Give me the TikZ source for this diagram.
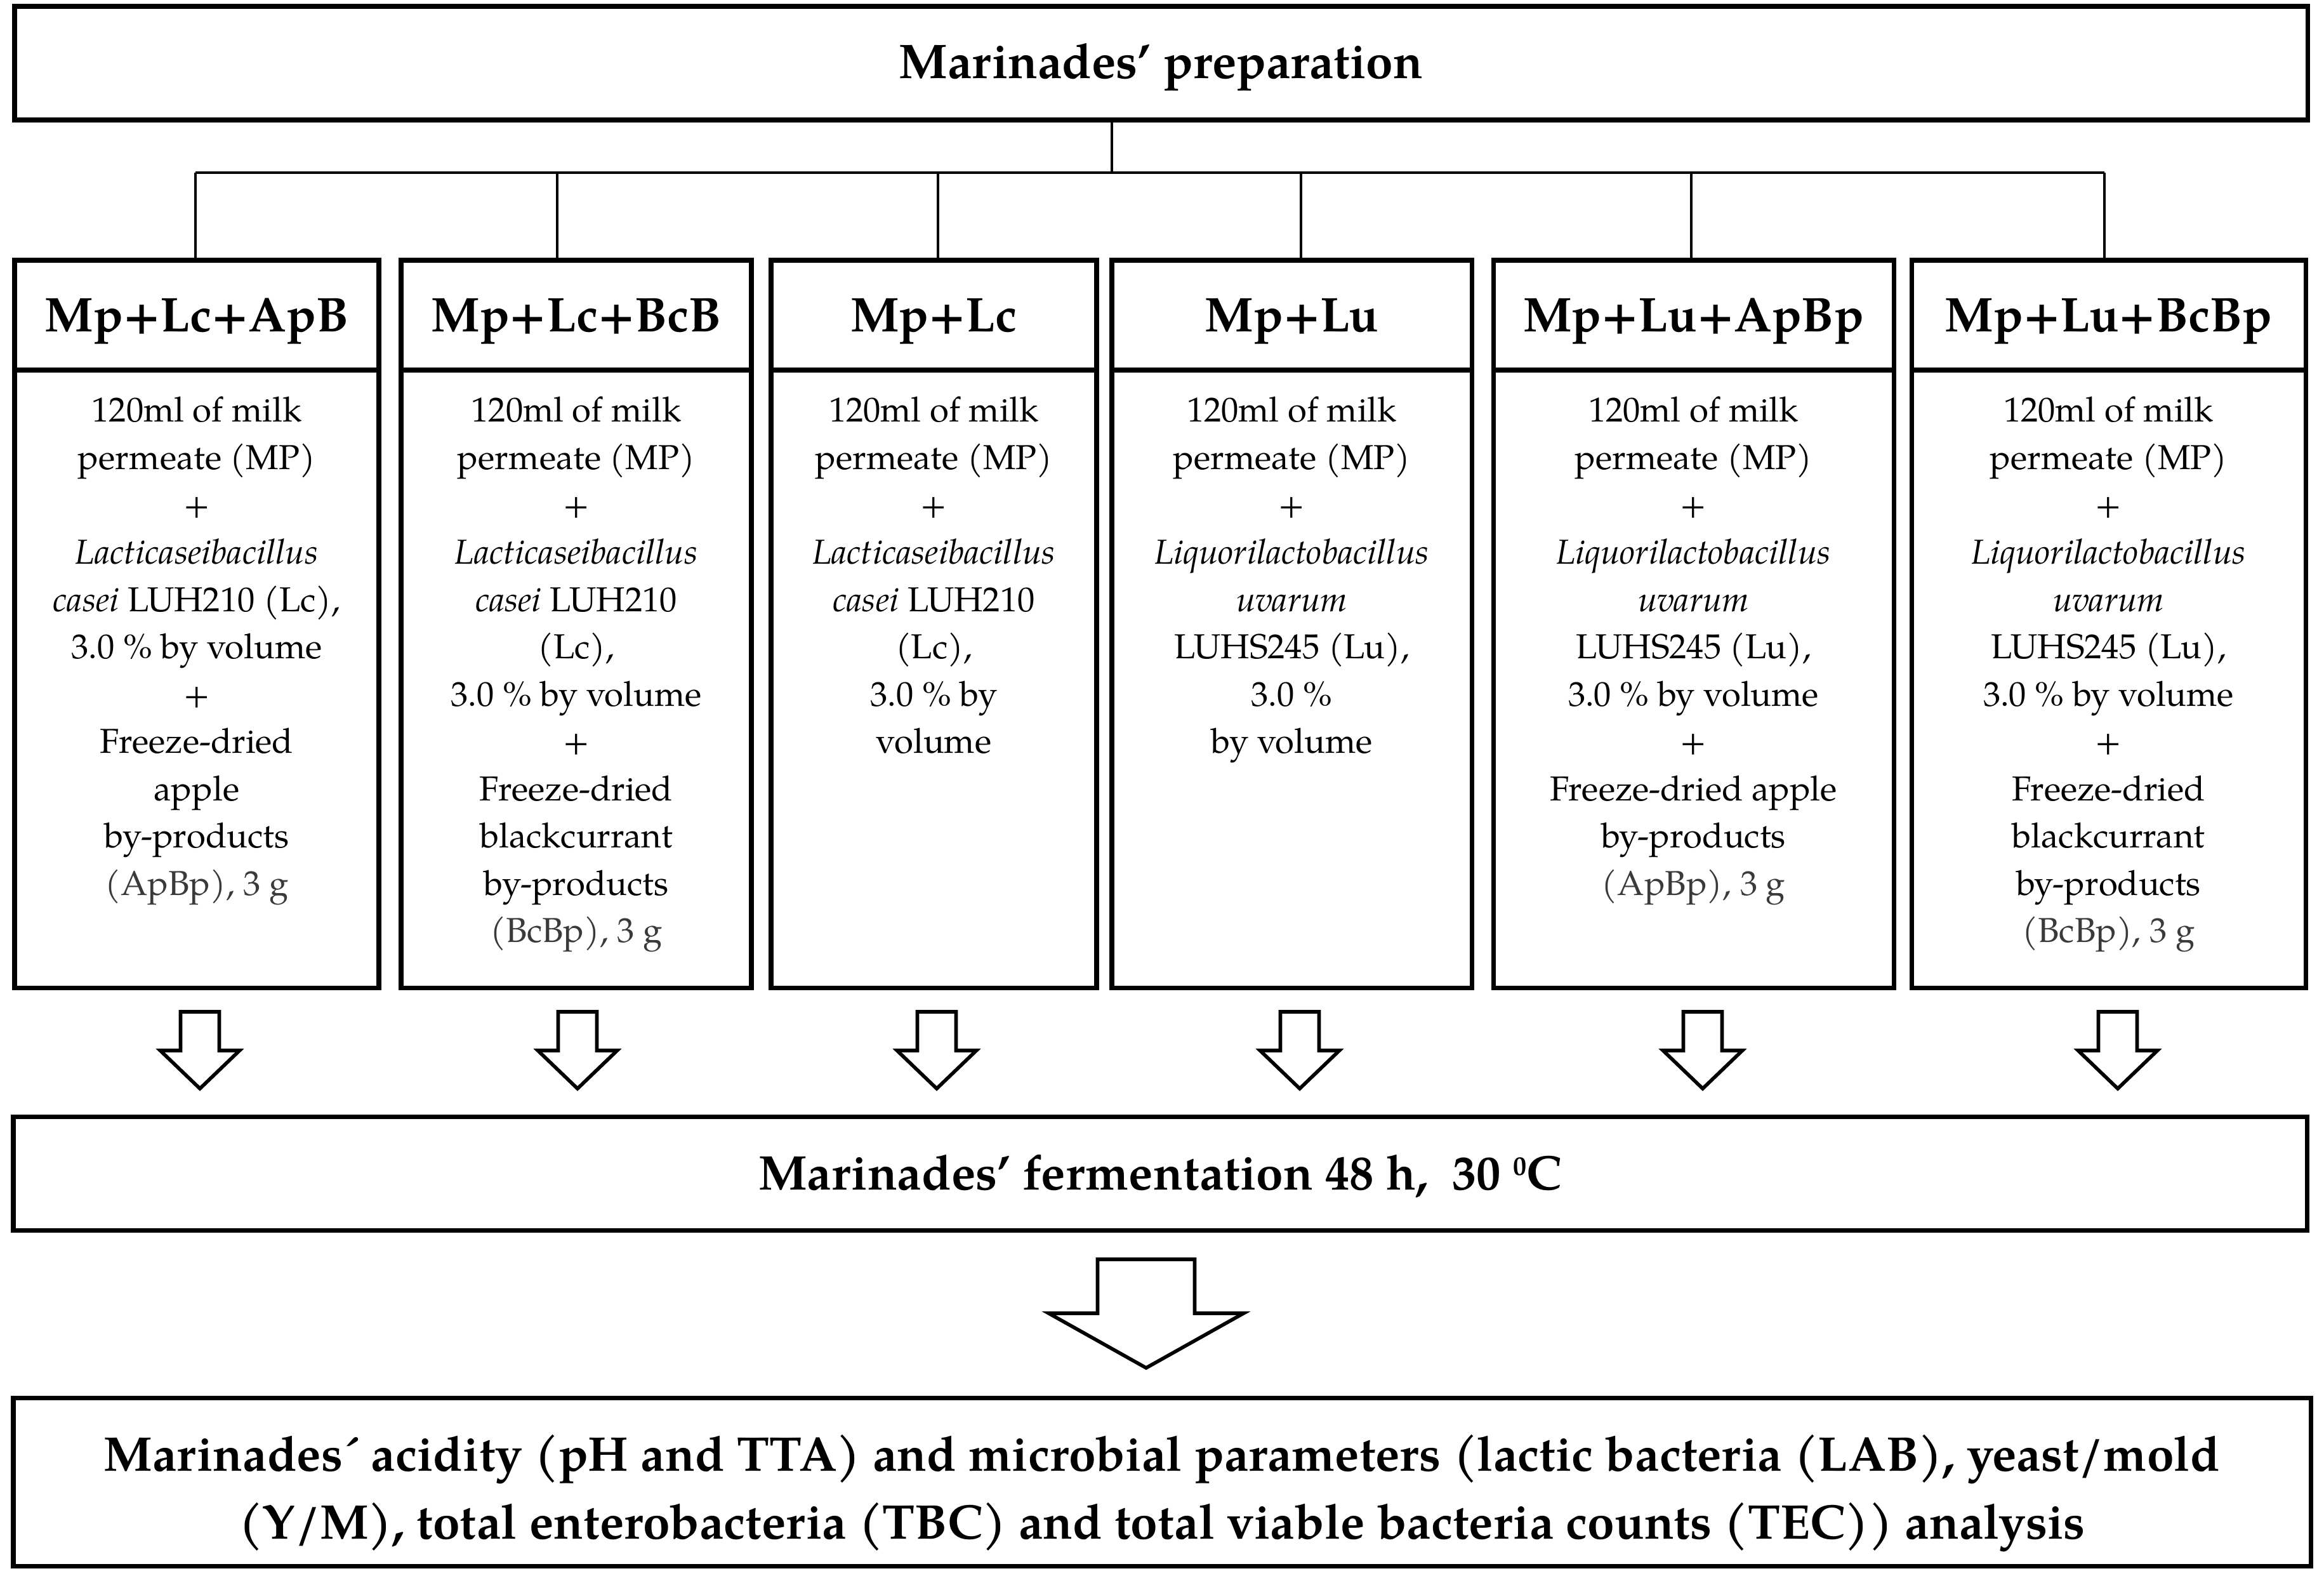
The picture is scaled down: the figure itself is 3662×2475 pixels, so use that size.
\documentclass[tikz,border=0pt]{standalone}
\usepackage{fontspec}
\setmainfont{texgyrepagella}[Extension=.otf, UprightFont=*-regular, BoldFont=*-bold, ItalicFont=*-italic, BoldItalicFont=*-bolditalic]
\usetikzlibrary{fit,calc}
\definecolor{gtext}{HTML}{3A3A3A}
\begin{document}
\begin{tikzpicture}[x=0.01cm,y=-0.01cm,
  box/.style={draw, line width=2pt, inner sep=0pt},
  tree/.style={line width=1pt},
  barrow/.style={draw, line width=1.6pt, line join=miter, fill=white},
  title/.style={font=\bfseries\fontsize{21.8pt}{30.4pt}\selectfont, inner sep=0pt, align=center},
  body/.style={font=\fontsize{15.5pt}{21.2pt}\selectfont, inner sep=0pt, align=center, anchor=north},
]
\useasboundingbox (0,0) rectangle (3662,2475);
% top box
\node[box, fit={(23,10)(3636,189)}] (prep) {};
\node[title, anchor=base] (tprep) at (prep.center |- 0,123) {Marinades’ preparation};
% columns
\node[box, fit={(23,410)(597,583)}] (h1) {};
\node[box, fit={(23,583)(597,1556)}] (b1) {};
\node[box, fit={(632,410)(1184,583)}] (h2) {};
\node[box, fit={(632,583)(1184,1556)}] (b2) {};
\node[box, fit={(1215,410)(1728,583)}] (h3) {};
\node[box, fit={(1215,583)(1728,1556)}] (b3) {};
\node[box, fit={(1752,410)(2319,583)}] (h4) {};
\node[box, fit={(1752,583)(2319,1556)}] (b4) {};
\node[box, fit={(2353,410)(2984,583)}] (h5) {};
\node[box, fit={(2353,583)(2984,1556)}] (b5) {};
\node[box, fit={(3012,410)(3633,583)}] (h6) {};
\node[box, fit={(3012,583)(3633,1556)}] (b6) {};
% headers
\node[title, anchor=base] (t1) at (h1.center |- 0,522) {Mp+Lc+ApB};
\node[title, anchor=base] (t2) at (h2.center |- 0,522) {Mp+Lc+BcB};
\node[title, anchor=base] (t3) at (h3.center |- 0,522) {Mp+Lc};
\node[title, anchor=base] (t4) at (h4.center |- 0,522) {Mp+Lu};
\node[title, anchor=base] (t5) at (h5.center |- 0,522) {Mp+Lu+ApBp};
\node[title, anchor=base] (t6) at (h6.center |- 0,522) {Mp+Lu+BcBp};
% bodies
\node[body] (x1) at ($(b1.north)+(0,45)$) {120ml of milk\\permeate (MP)\\+\\\textit{Lacticaseibacillus}\\\textit{casei} LUH210 (Lc),\\3.0 \% by volume\\+\\Freeze-dried\\apple\\by-products\\\textcolor{gtext}{(ApBp), 3 g}};
\node[body] (x2) at ($(b2.north)+(0,45)$) {120ml of milk\\permeate (MP)\\+\\\textit{Lacticaseibacillus}\\\textit{casei} LUH210\\(Lc),\\3.0 \% by volume\\+\\Freeze-dried\\blackcurrant\\by-products\\\textcolor{gtext}{(BcBp), 3 g}};
\node[body] (x3) at ($(b3.north)+(0,45)$) {120ml of milk\\permeate (MP)\\+\\\textit{Lacticaseibacillus}\\\textit{casei} LUH210\\(Lc),\\3.0 \% by\\volume};
\node[body] (x4) at ($(b4.north)+(0,45)$) {120ml of milk\\permeate (MP)\\+\\\textit{Liquorilactobacillus}\\\textit{uvarum}\\LUHS245 (Lu),\\3.0 \%\\by volume};
\node[body] (x5) at ($(b5.north)+(0,45)$) {120ml of milk\\permeate (MP)\\+\\\textit{Liquorilactobacillus}\\\textit{uvarum}\\LUHS245 (Lu),\\3.0 \% by volume\\+\\Freeze-dried apple\\by-products\\\textcolor{gtext}{(ApBp), 3 g}};
\node[body] (x6) at ($(b6.north)+(0,45)$) {120ml of milk\\permeate (MP)\\+\\\textit{Liquorilactobacillus}\\\textit{uvarum}\\LUHS245 (Lu),\\3.0 \% by volume\\+\\Freeze-dried\\blackcurrant\\by-products\\\textcolor{gtext}{(BcBp), 3 g}};
% tree
\coordinate (hub) at (1752,272);
\coordinate (j1) at (308,272);
\coordinate (j2) at (878,272);
\coordinate (j3) at (1478,272);
\coordinate (j4) at (2050,272);
\coordinate (j5) at (2665,272);
\coordinate (j6) at (3316,272);
\draw[tree] (prep.south -| hub) -- (hub);
\draw[tree] (j1) -- (j6);
\foreach \i in {1,...,6} {\draw[tree] (j\i) -- (j\i |- h\i.north);}
% fermentation
\node[box, fit={(21,1759)(3635,1938)}] (ferm) {};
\node[title, anchor=base] (tferm) at (ferm.center |- 0,1874) {Marinades’ fermentation 48 h,\ \ 30 \raisebox{6.4pt}{\fontsize{12pt}{12pt}\selectfont 0}C};
% small arrows
\foreach \i/\x in {1/315,2/910,3/1476,4/2048,5/2683,6/3337} {
  \coordinate (a\i) at (\x,1594);
  \draw[barrow] (a\i) ++(-30.5,0) -- ++(61,0) -- ++(0,61) -- ++(32,0) -- ++(-62.5,60) -- ++(-62.5,-60) -- ++(32,0) -- cycle;
}
% big arrow
\coordinate (A) at (1806,1984);
\draw[barrow] (A) ++(-76.5,0) -- ++(153,0) -- ++(0,85) -- ++(77,0) -- ++(-153.5,86) -- ++(-153.5,-86) -- ++(77,0) -- cycle;
% analysis
\node[box, fit={(21,2202)(3641,2467)}] (anal) {};
\node[title, anchor=base] (tanal) at (anal.center |- 0,2424) {Marinades´ acidity (pH and TTA) and microbial parameters (lactic bacteria (LAB), yeast/mold\\(Y/M), total enterobacteria (TBC) and total viable bacteria counts (TEC)) analysis};
\end{tikzpicture}
\end{document}
